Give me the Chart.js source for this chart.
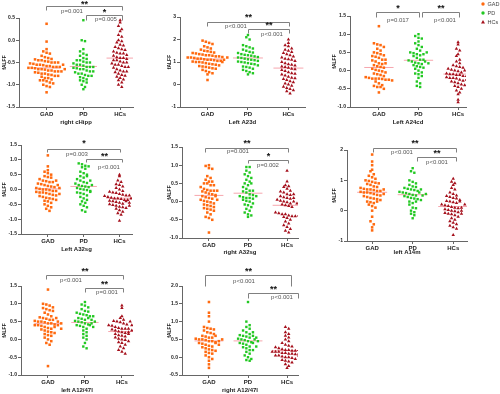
<!DOCTYPE html>
<html><head><meta charset="utf-8">
<script src="https://cdn.jsdelivr.net/npm/chart.js@4.4.0/dist/chart.umd.min.js"></script>
<style>
body{margin:0;background:#fff;width:500px;height:394px;overflow:hidden;position:relative}
canvas{position:absolute}
</style></head><body>
<script>
// ---------- DATA ----------
const groups = ['GAD', 'PD', 'HCs'];
const panelTitles = ['right cHipp', 'Left A23d', 'Left A24cd', 'Left A32sg', 'right A32sg', 'left A14m', 'left A12/47l', 'right A12/47l'];
const yMins  = [-1.5, -1, -1, -1.5, -1, -1, -1, -0.5];
const yMaxs  = [0.5, 3, 1.5, 1.5, 1.5, 2, 1.5, 2];
const ySteps = [0.5, 1, 0.5, 0.5, 0.5, 1, 0.5, 0.5];

const cHipp_GAD = [0.37,-0.03,-0.2,-0.25,-0.28,-0.3,-0.35,-0.38,-0.4,-0.42,-0.43,-0.45,-0.45,-0.47,-0.48,-0.5,-0.5,-0.52,-0.53,-0.55,-0.55,-0.56,-0.58,-0.58,-0.6,-0.6,-0.62,-0.62,-0.63,-0.65,-0.65,-0.66,-0.68,-0.68,-0.7,-0.7,-0.72,-0.73,-0.75,-0.75,-0.77,-0.78,-0.8,-0.8,-0.82,-0.85,-0.85,-0.88,-0.9,-0.9,-0.92,-0.95,-0.97,-1.0,-1.03,-1.05,-1.17,-0.5,-0.6,-0.7,-0.55,-0.65];
const cHipp_PD  = [0.45,0.0,-0.02,-0.2,-0.25,-0.3,-0.33,-0.35,-0.4,-0.42,-0.45,-0.45,-0.48,-0.5,-0.5,-0.52,-0.55,-0.55,-0.57,-0.6,-0.6,-0.6,-0.62,-0.63,-0.65,-0.65,-0.68,-0.7,-0.7,-0.72,-0.75,-0.75,-0.78,-0.8,-0.8,-0.83,-0.85,-0.88,-0.9,-0.92,-0.95,-1.0,-1.05,-1.1];
const cHipp_HCs = [0.45,0.4,0.32,0.25,0.2,0.12,0.08,0.0,-0.02,-0.05,-0.1,-0.12,-0.15,-0.18,-0.2,-0.22,-0.25,-0.28,-0.3,-0.3,-0.33,-0.35,-0.38,-0.4,-0.4,-0.42,-0.45,-0.45,-0.48,-0.5,-0.5,-0.52,-0.55,-0.55,-0.58,-0.6,-0.6,-0.62,-0.65,-0.68,-0.7,-0.7,-0.72,-0.75,-0.78,-0.8,-0.82,-0.85,-0.88,-0.9,-0.95,-1.0,-1.05];

const A23d_GAD = [1.95,1.9,1.85,1.8,1.7,1.65,1.6,1.55,1.5,1.48,1.45,1.42,1.4,1.38,1.35,1.33,1.3,1.3,1.28,1.25,1.25,1.22,1.2,1.2,1.18,1.15,1.15,1.12,1.1,1.1,1.08,1.05,1.05,1.02,1.0,1.0,0.98,0.95,0.92,0.9,0.88,0.85,0.82,0.8,0.78,0.75,0.72,0.7,0.65,0.6,0.55,0.5,0.45,0.2,1.1,1.2,1.0];
const A23d_PD  = [2.2,2.1,2.0,1.75,1.7,1.65,1.6,1.55,1.5,1.45,1.42,1.4,1.35,1.32,1.3,1.28,1.25,1.22,1.2,1.18,1.15,1.12,1.1,1.08,1.05,1.02,1.0,0.98,0.95,0.92,0.9,0.85,0.8,0.78,0.75,0.7,0.65,0.6,0.55,0.5,0.45];
const A23d_HCs = [2.0,1.85,1.75,1.7,1.6,1.55,1.5,1.45,1.4,1.35,1.3,1.25,1.2,1.15,1.12,1.1,1.05,1.0,0.95,0.9,0.88,0.85,0.8,0.78,0.75,0.7,0.68,0.65,0.6,0.55,0.5,0.48,0.45,0.4,0.35,0.3,0.28,0.25,0.2,0.15,0.1,0.05,0.0,-0.05,-0.1,-0.15,-0.2,-0.25,-0.3,-0.4];

const A24cd_GAD = [1.22,0.75,0.72,0.7,0.65,0.6,0.55,0.5,0.48,0.45,0.42,0.4,0.38,0.35,0.3,0.28,0.25,0.2,0.18,0.15,0.12,0.1,0.08,0.05,0.02,0.0,-0.02,-0.05,-0.08,-0.1,-0.12,-0.15,-0.18,-0.2,-0.22,-0.22,-0.22,-0.23,-0.25,-0.25,-0.27,-0.3,-0.35,-0.4,-0.42,-0.45,-0.45,-0.5,-0.6,0.2,0.3];
const A24cd_PD  = [1.0,0.95,0.9,0.88,0.8,0.75,0.7,0.65,0.6,0.55,0.5,0.48,0.45,0.42,0.4,0.35,0.3,0.28,0.25,0.22,0.2,0.18,0.15,0.12,0.1,0.08,0.05,0.0,-0.05,-0.08,-0.1,-0.15,-0.2,-0.3,-0.35,-0.42,-0.45,0.3,0.25,0.2,0.45,0.5];
const A24cd_HCs = [0.78,0.72,0.6,0.55,0.45,0.4,0.3,0.25,0.2,0.15,0.12,0.1,0.05,0.02,0.0,-0.02,-0.05,-0.08,-0.1,-0.1,-0.12,-0.12,-0.15,-0.15,-0.18,-0.2,-0.2,-0.22,-0.25,-0.28,-0.3,-0.32,-0.35,-0.38,-0.4,-0.42,-0.45,-0.5,-0.55,-0.6,-0.65,-0.8,-0.87,0.0,-0.05,-0.15,-0.25,0.08,-0.18];

const lA32sg_GAD = [1.15,0.78,0.65,0.6,0.55,0.5,0.45,0.42,0.4,0.35,0.3,0.28,0.25,0.2,0.18,0.15,0.12,0.1,0.08,0.05,0.02,0.0,0.0,-0.02,-0.05,-0.05,-0.08,-0.1,-0.1,-0.12,-0.15,-0.18,-0.2,-0.22,-0.25,-0.28,-0.3,-0.32,-0.35,-0.38,-0.4,-0.45,-0.5,-0.55,-0.6,-0.65,-0.72,0.05,0.15,0.25,-0.15,0.3];
const lA32sg_PD  = [0.88,0.85,0.8,0.78,0.75,0.7,0.6,0.55,0.5,0.45,0.4,0.35,0.3,0.25,0.22,0.2,0.15,0.12,0.1,0.08,0.05,0.02,0.0,-0.02,-0.05,-0.1,-0.12,-0.15,-0.2,-0.25,-0.3,-0.35,-0.4,-0.45,-0.5,-0.55,-0.6,-0.7,-0.75,0.3,0.15,-0.08,0.45];
const lA32sg_HCs = [0.5,0.45,0.3,0.25,0.18,0.15,0.1,0.05,0.0,-0.05,-0.08,-0.1,-0.12,-0.15,-0.18,-0.2,-0.22,-0.25,-0.28,-0.3,-0.3,-0.32,-0.35,-0.35,-0.38,-0.4,-0.42,-0.45,-0.48,-0.5,-0.52,-0.55,-0.58,-0.6,-0.62,-0.65,-0.7,-0.75,-0.8,-0.85,-1.05,-0.3,-0.4,-0.25,-0.45,-0.2,-0.55];

const rA32sg_GAD = [1.0,0.98,0.92,0.9,0.7,0.65,0.6,0.55,0.55,0.5,0.5,0.45,0.4,0.35,0.32,0.3,0.3,0.28,0.25,0.22,0.2,0.18,0.15,0.12,0.1,0.08,0.05,0.02,0.0,-0.02,-0.05,-0.08,-0.1,-0.12,-0.15,-0.18,-0.2,-0.22,-0.25,-0.3,-0.35,-0.42,-0.45,-0.5,-0.85,0.3,0.45,0.15,0.05];
const rA32sg_PD  = [0.95,0.95,0.85,0.8,0.75,0.7,0.65,0.6,0.55,0.5,0.45,0.4,0.35,0.3,0.28,0.25,0.2,0.18,0.15,0.12,0.1,0.1,0.08,0.05,0.02,0.0,-0.05,-0.08,-0.1,-0.15,-0.2,-0.25,-0.3,-0.35,-0.38,-0.42,0.15,0.3,0.5];
const rA32sg_HCs = [0.85,0.55,0.45,0.42,0.4,0.35,0.3,0.28,0.25,0.2,0.18,0.15,0.12,0.1,0.08,0.05,0.02,0.0,-0.02,-0.05,-0.08,-0.1,-0.12,-0.15,-0.3,-0.32,-0.35,-0.35,-0.38,-0.4,-0.4,-0.42,-0.45,-0.5,-0.55,-0.6,-0.65,-0.7,-0.75,-0.8,-0.85,0.1,0.0,-0.38,0.2,-0.05];

const A14m_GAD = [1.85,1.62,1.5,1.35,1.3,1.2,1.15,1.1,1.05,1.0,0.98,0.95,0.92,0.9,0.88,0.85,0.8,0.78,0.75,0.72,0.7,0.7,0.68,0.65,0.62,0.6,0.6,0.58,0.55,0.52,0.5,0.48,0.45,0.42,0.4,0.38,0.35,0.3,0.28,0.25,0.2,0.15,0.1,0.0,-0.2,-0.35,-0.45,-0.55,-0.65,0.65,0.7,0.55,0.3];
const A14m_PD  = [1.4,1.3,1.25,1.0,0.95,0.9,0.85,0.8,0.78,0.75,0.72,0.7,0.68,0.65,0.62,0.6,0.58,0.55,0.52,0.5,0.48,0.45,0.42,0.4,0.38,0.35,0.3,0.25,0.2,0.1,0.08,0.0,-0.05,-0.1,-0.15,-0.25,0.6,0.7,0.5,0.3,0.55];
const A14m_HCs = [1.05,0.95,0.9,0.85,0.75,0.7,0.6,0.55,0.5,0.48,0.45,0.42,0.4,0.35,0.32,0.3,0.28,0.25,0.2,0.18,0.15,0.12,0.1,0.08,0.05,0.02,0.0,-0.02,-0.05,-0.08,-0.1,-0.12,-0.15,-0.2,-0.25,-0.3,-0.35,-0.4,-0.45,-0.5,-0.55,-0.6,-0.8,0.3,0.1,0.0,0.2,-0.1];

const lA1247_GAD = [1.4,1.0,0.98,0.95,0.9,0.88,0.85,0.82,0.8,0.75,0.7,0.65,0.62,0.6,0.58,0.55,0.52,0.5,0.5,0.48,0.45,0.45,0.42,0.4,0.4,0.38,0.35,0.32,0.3,0.28,0.25,0.22,0.2,0.18,0.15,0.12,0.1,0.05,0.0,-0.05,-0.1,-0.15,-0.75,0.5,0.55,0.35,0.4,0.6,0.45,0.3];
const lA1247_PD  = [1.05,0.98,0.95,0.9,0.85,0.8,0.78,0.75,0.72,0.7,0.68,0.65,0.6,0.58,0.55,0.52,0.5,0.48,0.45,0.42,0.4,0.38,0.35,0.3,0.25,0.2,0.15,0.1,0.05,0.0,-0.1,-0.2,-0.25,0.45,0.6,0.5,0.4,0.55,0.65,0.35];
const lA1247_HCs = [0.95,0.88,0.65,0.6,0.55,0.52,0.5,0.48,0.45,0.42,0.4,0.38,0.35,0.32,0.3,0.3,0.28,0.25,0.22,0.2,0.18,0.15,0.12,0.1,0.08,0.05,0.02,0.0,-0.02,-0.05,-0.08,-0.1,-0.15,-0.2,-0.25,-0.3,-0.35,-0.4,0.3,0.4,0.2,0.25,0.35,0.5,0.15];

const rA1247_GAD = [1.55,1.25,1.15,1.0,0.85,0.82,0.8,0.78,0.75,0.7,0.68,0.65,0.6,0.58,0.55,0.52,0.5,0.5,0.48,0.45,0.45,0.42,0.4,0.38,0.35,0.32,0.3,0.28,0.25,0.22,0.2,0.18,0.15,0.12,0.1,0.05,0.0,-0.05,-0.1,-0.2,-0.3,0.45,0.5,0.55,0.4,0.6,0.35];
const rA1247_PD  = [1.55,1.0,0.9,0.85,0.8,0.75,0.7,0.65,0.62,0.6,0.58,0.55,0.52,0.5,0.48,0.45,0.42,0.4,0.38,0.35,0.3,0.28,0.25,0.2,0.15,0.1,0.05,0.0,-0.05,-0.08,-0.1,0.5,0.45,0.6,0.4,0.55,0.3,0.7,0.2];
const rA1247_HCs = [0.85,0.8,0.7,0.65,0.6,0.55,0.5,0.45,0.4,0.35,0.32,0.3,0.28,0.25,0.22,0.2,0.2,0.18,0.18,0.15,0.15,0.15,0.12,0.12,0.1,0.1,0.08,0.05,0.05,0.02,0.0,0.0,-0.02,-0.05,-0.08,-0.1,-0.12,-0.15,-0.2,-0.25,-0.3,0.1,0.15,0.2,0.05];

const starTexts = [['**','*'],['**','**'],['*','**'],['*','**'],['**','*'],['**','**'],['**','**'],['**','**']];
const pTexts = [['p=0.001','p=0.005'],['p<0.001','p<0.001'],['p=0.017','p<0.001'],['p=0.003','p<0.001'],['p=0.001','p=0.002'],['p<0.001','p<0.001'],['p<0.001','p=0.001'],['p<0.001','p<0.001']];

const panelData = [
  [cHipp_GAD, cHipp_PD, cHipp_HCs],
  [A23d_GAD, A23d_PD, A23d_HCs],
  [A24cd_GAD, A24cd_PD, A24cd_HCs],
  [lA32sg_GAD, lA32sg_PD, lA32sg_HCs],
  [rA32sg_GAD, rA32sg_PD, rA32sg_HCs],
  [A14m_GAD, A14m_PD, A14m_HCs],
  [lA1247_GAD, lA1247_PD, lA1247_HCs],
  [rA1247_GAD, rA1247_PD, rA1247_HCs]
];

// ---------- LAYOUT / STYLE ----------
const LAYOUT = [
 {left:0,   top:0,   w:165, h:130, L:19, R:133, T:18, B:107, xmin:.25, xmax:3.35, tpad:4.4},
 {left:165, top:0,   w:165, h:130, L:15, R:140, T:17, B:107, xmin:.32, xmax:3.41, tpad:4.4},
 {left:330, top:0,   w:170, h:130, L:20, R:136, T:16, B:107, xmin:.27, xmax:3.2,  tpad:4.4},
 {left:0,   top:130, w:165, h:130, L:21, R:132, T:15, B:104, xmin:.25, xmax:3.35, tpad:7.4},
 {left:165, top:130, w:165, h:130, L:17, R:133, T:17, B:108, xmin:.31, xmax:3.28, tpad:4.4},
 {left:330, top:130, w:170, h:130, L:17, R:137, T:20, B:111, xmin:.38, xmax:3.34, tpad:4.4},
 {left:0,   top:262, w:165, h:132, L:21, R:133, T:24, B:113, xmin:.27, xmax:3.3,  tpad:0.4},
 {left:165, top:262, w:165, h:132, L:17, R:133, T:24, B:113, xmin:.31, xmax:3.28, tpad:0.4}
];
// bracket geometry (canvas-relative pixels), group ends via the x scale
const BRACKETS = [
 [{g1:1,g2:3,d1:-1,d2:2,y:6,leg:4,sy:3,px:72,py:11},{g1:2,g2:3,d1:3,d2:2,y:15,leg:5,sy:11,px:106,py:19}],
 [{g1:1,g2:3,d1:-1,d2:1,y:22,leg:4,sy:16,px:71,py:26},{g1:2,g2:3,d1:0,d2:1,y:29,leg:4,sy:24,px:107,py:34}],
 [{g1:1,g2:2,d1:-3,d2:1,y:12,leg:5,sy:7,px:68,py:20},{g1:2,g2:3,d1:4,d2:1,y:12,leg:5,sy:7,px:115,py:20}],
 [{g1:1,g2:3,d1:-1,d2:1,y:19,leg:3,sy:12,px:77,py:24},{g1:2,g2:3,d1:2,d2:3,y:29,leg:3,sy:25,px:109,py:37}],
 [{g1:1,g2:3,d1:-4,d2:1,y:18,leg:4,sy:12,px:73,py:21},{g1:2,g2:3,d1:0,d2:1,y:30,leg:3,sy:25,px:103,py:35}],
 [{g1:1,g2:3,d1:1,d2:3,y:18,leg:4,sy:12,px:72,py:22},{g1:2,g2:3,d1:4,d2:3,y:27,leg:4,sy:22,px:107,py:32}],
 [{g1:1,g2:3,d1:-2,d2:1,y:13,leg:4,sy:8,px:71,py:18},{g1:2,g2:3,d1:0,d2:1,y:26,leg:4,sy:21,px:107,py:30}],
 [{g1:1,g2:3,d1:-4,d2:4,y:13,leg:11,sy:8,px:79,py:19},{g1:2,g2:3,d1:0,d2:11,y:31,leg:5,sy:26,px:117,py:35}]
];
const COLORS = {GAD:'#ff6a10', PD:'#22c822', HCs:'#a5101c'};
const SHAPES = {GAD:'rect', PD:'rect', HCs:'triangle'};
const RADII  = {GAD:1.8, PD:1.7, HCs:2.0};
const FONT = '"Liberation Sans", Arial, sans-serif';

function swarm(vals, g, pxY, pxX) {
  const bins = new Map();
  vals.forEach(v => {
    const k = Math.round(v * pxY / 4.2);
    if (!bins.has(k)) bins.set(k, []);
    bins.get(k).push(v);
  });
  const pts = [];
  bins.forEach(arr => {
    const n = arr.length;
    arr.forEach((v, i) => pts.push({x: g + (i - (n - 1) / 2) * 3.3 / pxX, y: v}));
  });
  return pts;
}

const annot = {
  id: 'annot',
  afterDraw(chart, args, opts) {
    const ctx = chart.ctx, xs = chart.scales.x;
    ctx.save();
    (opts.brackets || []).forEach(b => {
      const x1 = Math.round(xs.getPixelForValue(b.g1) + b.d1) + 0.5;
      const x2 = Math.round(xs.getPixelForValue(b.g2) + b.d2) + 0.5;
      const y = b.y + 0.5;
      ctx.strokeStyle = '#808080'; ctx.lineWidth = 1;
      ctx.beginPath();
      ctx.moveTo(x1, y + b.leg); ctx.lineTo(x1, y); ctx.lineTo(x2, y); ctx.lineTo(x2, y + b.leg);
      ctx.stroke();
      ctx.textAlign = 'center'; ctx.textBaseline = 'middle';
      ctx.fillStyle = '#111'; ctx.font = 'bold 9px ' + FONT;
      ctx.fillText(b.star, (x1 + x2) / 2, b.sy + 2);
      ctx.fillStyle = '#555'; ctx.font = '6px ' + FONT;
      ctx.fillText(b.p, b.px, b.py);
    });
    if (opts.legend) {
      const items = [['GAD','circle'],['PD','circle'],['HCs','triangle']];
      items.forEach((it, i) => {
        const y = 4 + i * 9, mx = 153;
        ctx.fillStyle = COLORS[it[0]];
        ctx.beginPath();
        if (it[1] === 'circle') { ctx.arc(mx, y, 1.7, 0, Math.PI * 2); }
        else { ctx.moveTo(mx, y - 2); ctx.lineTo(mx + 2, y + 1.5); ctx.lineTo(mx - 2, y + 1.5); ctx.closePath(); }
        ctx.fill();
        ctx.fillStyle = '#444'; ctx.font = '5.5px ' + FONT;
        ctx.textAlign = 'left'; ctx.textBaseline = 'middle';
        ctx.fillText(it[0], mx + 4.5, y);
      });
    }
    ctx.restore();
  }
};

LAYOUT.forEach((lay, p) => {
  const cv = document.createElement('canvas');
  cv.width = lay.w; cv.height = lay.h;
  cv.style.left = lay.left + 'px'; cv.style.top = lay.top + 'px';
  cv.style.width = lay.w + 'px'; cv.style.height = lay.h + 'px';
  document.body.appendChild(cv);
  const pxY = (lay.B - lay.T) / (yMaxs[p] - yMins[p]);
  const pxX = (lay.R - lay.L) / (lay.xmax - lay.xmin);
  const datasets = [];
  groups.forEach((g, gi) => {
    const vals = panelData[p][gi];
    datasets.push({
      type: 'scatter', label: g, data: swarm(vals, gi + 1, pxY, pxX),
      pointStyle: SHAPES[g], pointRadius: RADII[g], backgroundColor: COLORS[g],
      borderColor: COLORS[g], borderWidth: 0, order: 1
    });
  });
  groups.forEach((g, gi) => {
    const vals = panelData[p][gi];
    const m = vals.reduce((a, b) => a + b, 0) / vals.length;
    datasets.push({
      type: 'line', label: g + ' mean', data: [{x: gi + 1 - 0.37, y: m}, {x: gi + 1 + 0.37, y: m}],
      borderColor: 'rgba(245,150,160,0.85)', borderWidth: 1, pointRadius: 0, order: 5
    });
  });
  const brackets = BRACKETS[p].map((b, i) => Object.assign({star: starTexts[p][i], p: pTexts[p][i]}, b));
  new Chart(cv, {
    data: {datasets},
    options: {
      responsive: false, animation: false, devicePixelRatio: 1,
      layout: {padding: {top: lay.T, right: lay.w - lay.R, left: 0, bottom: 0}},
      plugins: {legend: {display: false}, tooltip: {enabled: false},
        annot: {brackets, legend: p === 2}},
      scales: {
        x: {
          type: 'linear', min: lay.xmin, max: lay.xmax,
          afterFit: s => { s.height = lay.h - lay.B; },
          afterBuildTicks: s => { s.ticks = [{value: 1}, {value: 2}, {value: 3}]; },
          ticks: {callback: v => groups[v - 1], font: {family: FONT, size: 6, weight: 'bold'}, color: '#222', padding: 1, autoSkip: false, maxRotation: 0},
          grid: {drawOnChartArea: false, drawTicks: true, tickLength: 3, color: '#666'},
          border: {display: true, color: '#666', width: 1},
          title: {display: true, text: panelTitles[p], font: {family: FONT, size: 6, weight: 'bold'}, color: '#222', padding: {top: 0, bottom: lay.tpad}}
        },
        y: {
          type: 'linear', min: yMins[p], max: yMaxs[p],
          afterFit: s => { s.width = lay.L; },
          ticks: {stepSize: ySteps[p], callback: v => ySteps[p] < 1 ? v.toFixed(1) : String(v), font: {family: FONT, size: 5, weight: 'bold'}, color: '#222', padding: 1},
          grid: {drawOnChartArea: false, drawTicks: true, tickLength: 3, color: '#666'},
          border: {display: true, color: '#666', width: 1},
          title: {display: true, text: 'fALFF', font: {family: FONT, size: 5, weight: 'bold'}, color: '#222', padding: {top: 2, bottom: 0}}
        }
      }
    },
    plugins: [annot]
  });
});
</script>
</body></html>
